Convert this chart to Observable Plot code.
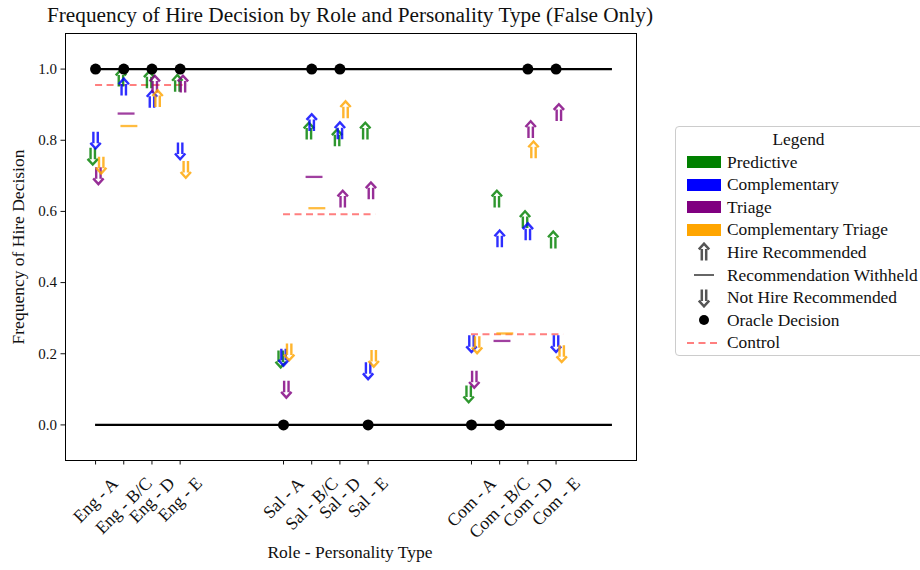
<!DOCTYPE html>
<html><head><meta charset="utf-8">
<script src="https://cdn.jsdelivr.net/npm/d3@7"></script>
<script src="https://cdn.jsdelivr.net/npm/@observablehq/plot@0.6"></script>
<style>
html,body{margin:0;padding:0;background:#fff;}
body{width:920px;height:570px;overflow:hidden;position:relative;font-family:"Liberation Serif",serif;color:#111;}
#chart{position:absolute;left:0;top:0;}
#title{position:absolute;left:0;top:3px;width:700px;text-align:center;font-size:21.3px;}
#xlabel{position:absolute;left:0;width:700px;top:542px;text-align:center;font-size:17.5px;}
#ylabel{position:absolute;left:18px;top:247px;transform:translate(-50%,-50%) rotate(-90deg);font-size:17.5px;white-space:nowrap;}
#legend{position:absolute;left:675px;top:126px;width:260px;height:230px;border:1px solid #ccc;border-radius:4px;background:#fff;box-sizing:border-box;}
.lrow{position:absolute;left:0;height:20px;display:flex;align-items:center;font-size:17.4px;white-space:nowrap;}
.lsym{width:45px;display:flex;justify-content:center;align-items:center;margin-left:5px;margin-right:1px;}
.patch{width:34px;height:12px;}
</style></head><body>
<div id="chart"></div>
<div id="title">Frequency of Hire Decision by Role and Personality Type (False Only)</div>
<div id="xlabel">Role - Personality Type</div>
<div id="ylabel">Frequency of Hire Decision</div>
<div id="legend"></div>
<script>
// ---- data ----
const categories = ["Eng - A","Eng - B/C","Eng - D","Eng - E","Sal - A","Sal - B/C","Sal - D","Sal - E","Com - A","Com - B/C","Com - D","Com - E"];
const roles = ["Eng","Sal","Com"];
const oracleDecision = [1,1,1,1,0,1,1,0,0,0,1,1];
const controlValues = [0.955,0.592,0.255];

const predictiveValues = [0.755,0.975,0.97,0.96,0.185,0.826,0.807,0.826,0.087,0.635,0.577,0.52];
const predictiveRecs   = ["down","up","up","up","down","up","up","up","down","up","up","up"];
const complementaryValues = [0.80,0.95,0.915,0.77,0.19,0.85,0.827,0.152,0.228,0.523,0.543,0.228];
const complementaryRecs   = ["down","up","up","down","down","up","up","down","down","up","up","down"];
const triageValues = [0.70,0.875,0.958,0.958,0.10,0.697,0.635,0.658,0.128,0.236,0.83,0.878];
const triageRecs   = ["down","withheld","up","up","down","withheld","up","up","down","withheld","up","up"];
const compTriageValues = [0.73,0.84,0.917,0.718,0.205,0.609,0.886,0.187,0.225,0.257,0.773,0.20];
const compTriageRecs   = ["down","withheld","up","down","down","withheld","up","down","down","withheld","up","down"];

const conditionNames = ["Predictive","Complementary","Triage","Complementary Triage"];
const conditionColors = ["green","blue","purple","orange"];
const yTicks = [0,0.2,0.4,0.6,0.8,1.0];

// ---- layout helpers ----
const pos = i => Math.floor(i/4) + (i%4)*0.15;
const offsets = [-0.015,0,0.015,0.03];
const series = [
  [predictiveValues,predictiveRecs],
  [complementaryValues,complementaryRecs],
  [triageValues,triageRecs],
  [compTriageValues,compTriageRecs]
];
const rows = [];
series.forEach(([vals,recs],c)=>{
  vals.forEach((v,i)=>rows.push({x:pos(i)+offsets[c], y:v, rec:recs[i], color:conditionColors[c], cond:conditionNames[c]}));
});
const ups = rows.filter(d=>d.rec==="up");
const downs = rows.filter(d=>d.rec==="down");
const withheld = rows.filter(d=>d.rec==="withheld");
const oracle = categories.map((c,i)=>({x:pos(i), y:oracleDecision[i]}));
const control = roles.map((r,i)=>({x1:i, x2:i+0.49, y:controlValues[i]}));
const tickPositions = categories.map((c,i)=>pos(i));

function arrowSymbol(dir){
  return {draw(ctx,size){
    const s=Math.sqrt(size/Math.PI)/8.5*dir;
    const w=Math.abs(s);
    ctx.moveTo(-2.2*w,-3*s); ctx.lineTo(-2.2*w,8.5*s);
    ctx.moveTo(2.2*w,-3*s); ctx.lineTo(2.2*w,8.5*s);
    ctx.moveTo(-5.2*w,-2.6*s); ctx.lineTo(0,-8.3*s); ctx.lineTo(5.2*w,-2.6*s);
  }};
}
const upSym = arrowSymbol(1), downSym = arrowSymbol(-1);

// rotated tick labels centred under each tick (matplotlib ha="center", rotation=45)
const yTickFont = 15;
const xTickFont = 17.7;
const mctx = document.createElement("canvas").getContext("2d");
mctx.font = `${xTickFont}px "Liberation Serif"`;
const tickLabelMarks = categories.map((c,i)=>{
  const L = mctx.measureText(c).width;
  const W = (L + xTickFont*1.1)/Math.SQRT2;
  return Plot.text([{x:pos(i), label:c}],{x:"x",text:"label",frameAnchor:"bottom",dy:13+W/2,rotate:-45,textAnchor:"middle",lineAnchor:"middle",fontSize:xTickFont,fill:"#111"});
});

const chart = Plot.plot({
  width:920, height:570,
  marginLeft:65, marginRight:284, marginTop:33, marginBottom:110,
  style:{fontFamily:"Liberation Serif, serif", fontSize:"15px", color:"#111", background:"transparent"},
  x:{domain:[-0.16,2.878]},
  y:{domain:[-0.1,1.1]},
  marks:[
    Plot.ruleY([1,0],{x1:0,x2:2.75,stroke:"black",strokeWidth:2.2}),
    Plot.ruleY(control,{x1:"x1",x2:"x2",y:"y",stroke:"#ff7f7f",strokeWidth:2,strokeDasharray:"7,4.5"}),
    Plot.ruleY(withheld,{x1:d=>d.x-0.045,x2:d=>d.x+0.045,y:"y",stroke:"color",strokeWidth:2.3,strokeOpacity:0.75}),
    Plot.dot(ups,{x:"x",y:"y",r:8.5,symbol:upSym,stroke:"color",fill:"none",strokeWidth:2.4,strokeOpacity:0.82}),
    Plot.dot(downs,{x:"x",y:"y",r:8.5,symbol:downSym,stroke:"color",fill:"none",strokeWidth:2.4,strokeOpacity:0.82}),
    Plot.dot(oracle,{x:"x",y:"y",r:5.5,fill:"black"}),
    Plot.frame({stroke:"black",strokeWidth:1}),
    Plot.axisY(yTicks,{tickFormat:d3.format(".1f"),tickSize:4.5,tickPadding:4,fontSize:yTickFont,label:null}),
    Plot.axisX(tickPositions,{tickFormat:()=>"",tickSize:4.5,label:null}),
    ...tickLabelMarks
  ]
});
document.getElementById("chart").appendChild(chart);

// ---- legend ----
const leg = document.getElementById("legend");
const lt = document.createElement("div");
lt.textContent="Legend";
lt.style.cssText="position:absolute;left:0;width:245px;top:2px;text-align:center;font-size:17.4px;";
leg.appendChild(lt);
const arrowSvg = dir => `<svg width="14" height="20" viewBox="-7 -10 14 20"><path d="${dir>0?"M-2.2,-3V8.5M2.2,-3V8.5M-5.2,-2.6L0,-8.3L5.2,-2.6":"M-2.2,3V-8.5M2.2,3V-8.5M-5.2,2.6L0,8.3L5.2,2.6"}" fill="none" stroke="#555" stroke-width="2.5"/></svg>`;
const items = [
  ...conditionNames.map((n,i)=>({label:n, sym:`<div class="patch" style="background:${conditionColors[i]}"></div>`})),
  {label:"Hire Recommended", sym:arrowSvg(1)},
  {label:"Recommendation Withheld", sym:`<div style="width:20px;height:1.5px;background:#666"></div>`},
  {label:"Not Hire Recommended", sym:arrowSvg(-1)},
  {label:"Oracle Decision", sym:`<div style="width:10px;height:10px;border-radius:50%;background:#000"></div>`},
  {label:"Control", sym:`<svg width="34" height="4"><line x1="0" y1="2" x2="34" y2="2" stroke="#ff7f7f" stroke-width="2" stroke-dasharray="7,4.5"/></svg>`}
];
items.forEach((it,k)=>{
  const r=document.createElement("div");
  r.className="lrow";
  r.style.top=(25+k*22.6)+"px";
  r.innerHTML=`<div class="lsym">${it.sym}</div><span>${it.label}</span>`;
  leg.appendChild(r);
});
</script>
</body></html>
